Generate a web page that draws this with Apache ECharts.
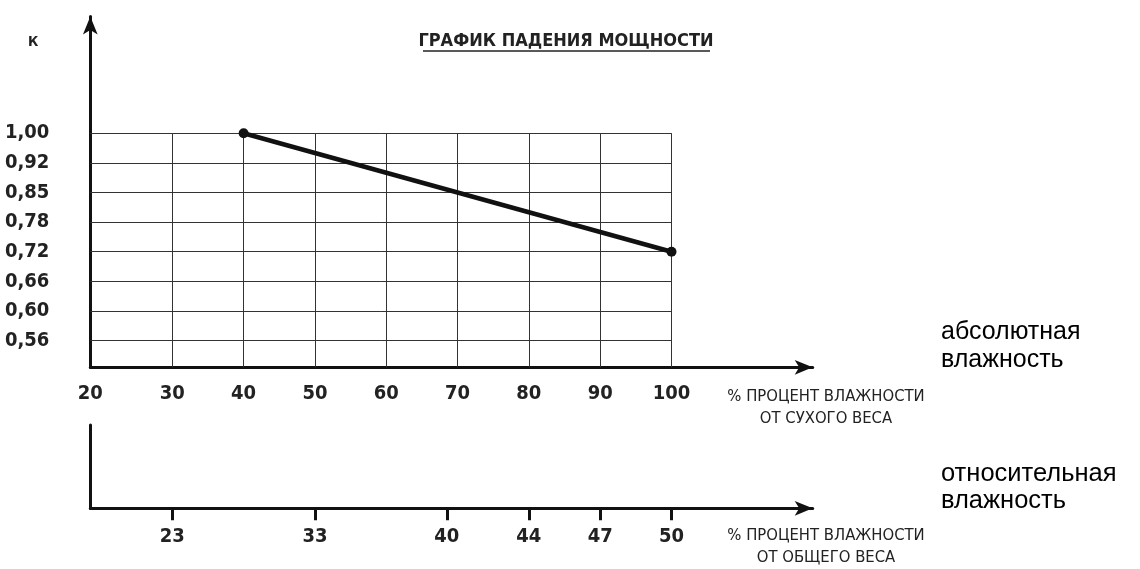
<!DOCTYPE html>
<html>
<head>
<meta charset="utf-8">
<script src="https://cdn.jsdelivr.net/npm/echarts@6/dist/echarts.min.js"></script>
<style>
  html, body { margin: 0; padding: 0; background: #fff; }
  #chart { width: 1140px; height: 569px; }
</style>
</head>
<body>
<div id="chart"></div>
<script>
// данные графика
const kValues = [1.00, 0.92, 0.85, 0.78, 0.72, 0.66, 0.60, 0.56];
const kLabels = ['1,00', '0,92', '0,85', '0,78', '0,72', '0,66', '0,60', '0,56'];
const absTicks = [30, 40, 50, 60, 70, 80, 90, 100];
const absLabels = ['20', '30', '40', '50', '60', '70', '80', '90', '100'];
const relLabels = ['23', '33', '40', '44', '47', '50'];
const relAt = [30, 50, 68.5, 80, 90, 100];   // положение на шкале абсолютной влажности
const lineX = [40, 100];
const lineK = [1.00, 0.72];

const X_MIN = 18.5, X_MAX = 119.8;
const Y_MIN = 0.1, Y_MAX = 11.94;
const FONT = "'DejaVu Sans Condensed', sans-serif";

// ступени шкалы K идут равномерно
const rank = v => kValues.length - kValues.indexOf(v);

const chart = echarts.init(document.getElementById('chart'));

const gridLines = [];
kValues.forEach(v => {
  gridLines.push([{ coord: [X_MIN, rank(v)] }, { coord: [100, rank(v)] }]);
});
absTicks.forEach(x => {
  gridLines.push([{ coord: [x, Y_MIN] }, { coord: [x, rank(kValues[0])] }]);
});

const absAt = [X_MIN].concat(absTicks);
const tickFont = { color: '#222', fontFamily: FONT, fontWeight: 'bold', fontSize: 20 };
const axisArrow = { lineStyle: { color: '#111', width: 3 }, symbol: ['none', 'arrow'], symbolSize: [11, 18] };

const option = {
  animation: false,
  grid: [
    { left: 90.3, right: 327.3, top: 16.5, bottom: 201.7, outerBoundsMode: 'none', containLabel: false },
    { left: 90.3, right: 327.3, top: 425, bottom: 60.7, outerBoundsMode: 'none', containLabel: false }
  ],
  xAxis: [{
    type: 'value', gridIndex: 0, min: X_MIN, max: X_MAX,
    axisLine: axisArrow,
    axisTick: { show: false },
    splitLine: { show: false },
    axisLabel: Object.assign({
      customValues: absAt, margin: 16,
      formatter: v => absLabels[absAt.indexOf(v)]
    }, tickFont)
  }, {
    type: 'value', gridIndex: 1, min: X_MIN, max: X_MAX,
    axisLine: axisArrow,
    axisTick: { customValues: relAt, length: 12, lineStyle: { color: '#111', width: 3 } },
    splitLine: { show: false },
    axisLabel: Object.assign({
      customValues: relAt, margin: 18,
      formatter: v => relLabels[relAt.indexOf(v)]
    }, tickFont)
  }],
  yAxis: [{
    type: 'value', gridIndex: 0, min: Y_MIN, max: Y_MAX,
    axisLine: Object.assign({ show: true }, axisArrow),
    axisTick: { show: false },
    splitLine: { show: false },
    axisLabel: Object.assign({
      customValues: kValues.map(rank), margin: 41,
      formatter: v => kLabels[kValues.length - v]
    }, tickFont)
  }, {
    type: 'value', gridIndex: 1, min: 0, max: 1,
    axisLine: { show: true, lineStyle: { color: '#111', width: 3 } },
    axisTick: { show: false },
    splitLine: { show: false },
    axisLabel: { show: false }
  }],
  series: [{
    type: 'line', xAxisIndex: 0, yAxisIndex: 0, data: [], z: 1,
    markLine: {
      silent: true, symbol: 'none', z: 1, animation: false,
      label: { show: false },
      lineStyle: { color: '#333', width: 1, type: 'solid' },
      emphasis: { disabled: true },
      data: gridLines
    }
  }, {
    type: 'line', xAxisIndex: 0, yAxisIndex: 0, z: 10,
    data: lineX.map((x, i) => [x, rank(lineK[i])]),
    symbol: 'circle', symbolSize: 10, showSymbol: true,
    lineStyle: { color: '#111', width: 4.5 },
    itemStyle: { color: '#111' }
  }],
  graphic: [
    { type: 'text', left: 28, top: 35, style: { text: 'К', font: 'bold 14px ' + FONT, fill: '#222' } },
    { type: 'text', x: 566, y: 41, style: { text: 'ГРАФИК ПАДЕНИЯ МОЩНОСТИ', font: 'bold 18px ' + FONT, fill: '#222', align: 'center', verticalAlign: 'middle' } },
    { type: 'line', shape: { x1: 423, y1: 51, x2: 710, y2: 51 }, style: { stroke: '#222', lineWidth: 1.5 } },
    { type: 'text', x: 826, y: 408, style: { text: '% ПРОЦЕНТ ВЛАЖНОСТИ\nОТ СУХОГО ВЕСА', font: '16.5px ' + FONT, lineHeight: 22, fill: '#222', align: 'center', verticalAlign: 'middle' } },
    { type: 'text', x: 826, y: 547, style: { text: '% ПРОЦЕНТ ВЛАЖНОСТИ\nОТ ОБЩЕГО ВЕСА', font: '16.5px ' + FONT, lineHeight: 22, fill: '#222', align: 'center', verticalAlign: 'middle' } },
    { type: 'text', x: 941, y: 346, style: { text: 'абсолютная\nвлажность', font: '25px Liberation Sans, Arial, sans-serif', lineHeight: 28, fill: '#000', verticalAlign: 'middle' } },
    { type: 'text', x: 941, y: 487, style: { text: 'относительная\nвлажность', font: '25.5px Liberation Sans, Arial, sans-serif', lineHeight: 27, fill: '#000', verticalAlign: 'middle' } }
  ]
};

chart.setOption(option);
</script>
</body>
</html>
